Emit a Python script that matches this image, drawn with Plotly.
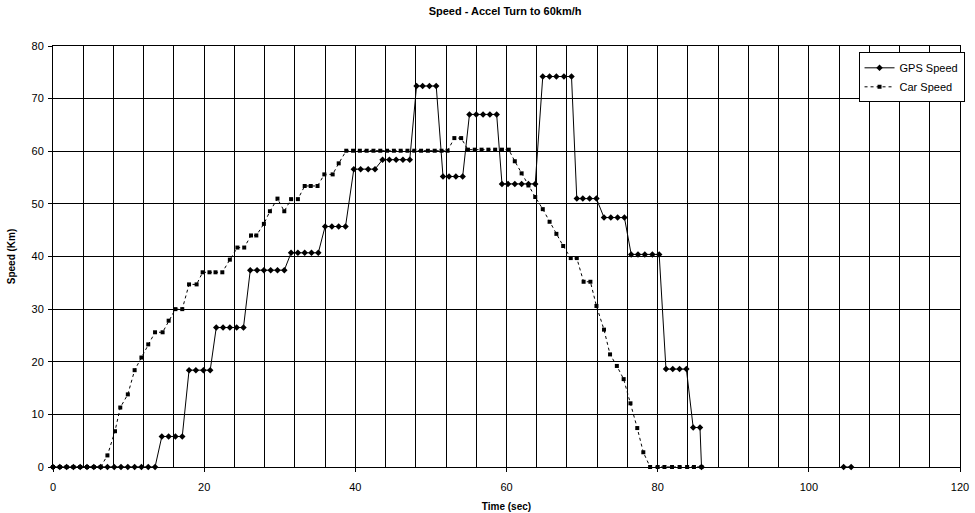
import plotly.graph_objects as go

# GPS speed samples (time in s, speed)
gps_time = [0.0, 0.9, 1.8, 2.7, 3.6, 4.5, 5.4, 6.3, 7.2, 8.1, 9.0, 9.9, 10.8, 11.7, 12.6, 13.5,
            14.4, 15.3, 16.2, 17.1,
            18.0, 18.9, 19.9, 20.8,
            21.6, 22.5, 23.4, 24.3, 25.2,
            26.1, 27.0, 27.9, 28.8, 29.7, 30.6,
            31.5, 32.4, 33.3, 34.2, 35.1,
            36.0, 36.9, 37.8, 38.7,
            39.8, 40.7, 41.7, 42.6,
            43.6, 44.5, 45.4, 46.3, 47.2,
            48.1, 48.9, 49.8, 50.7,
            51.6, 52.4, 53.3, 54.2,
            55.1, 56.0, 56.9, 57.8, 58.7,
            59.4, 60.2, 61.1, 62.0, 62.9, 63.8,
            64.8, 65.7, 66.6, 67.6, 68.6,
            69.3, 70.1, 71.0, 71.9,
            72.9, 73.8, 74.7, 75.6,
            76.5, 77.4, 78.3, 79.3, 80.2,
            81.1, 82.0, 82.9, 83.8,
            84.7, 85.6, 85.8,
            None,
            104.6, 105.6]
gps_speed = [0, 0, 0, 0, 0, 0, 0, 0, 0, 0, 0, 0, 0, 0, 0, 0,
             5.8, 5.8, 5.8, 5.8,
             18.4, 18.4, 18.4, 18.4,
             26.5, 26.5, 26.5, 26.5, 26.5,
             37.4, 37.4, 37.4, 37.4, 37.4, 37.4,
             40.7, 40.7, 40.7, 40.7, 40.7,
             45.7, 45.7, 45.7, 45.7,
             56.6, 56.6, 56.6, 56.6,
             58.4, 58.4, 58.4, 58.4, 58.4,
             72.4, 72.4, 72.4, 72.4,
             55.2, 55.2, 55.2, 55.2,
             67.0, 67.0, 67.0, 67.0, 67.0,
             53.8, 53.8, 53.8, 53.8, 53.8, 53.8,
             74.2, 74.2, 74.2, 74.2, 74.2,
             51.0, 51.0, 51.0, 51.0,
             47.4, 47.4, 47.4, 47.4,
             40.4, 40.4, 40.4, 40.4, 40.4,
             18.6, 18.6, 18.6, 18.6,
             7.5, 7.5, 0,
             None,
             0, 0]

# Car speed samples
car_time = [0.0, 0.9, 1.8, 2.7, 3.6, 4.5, 5.4, 6.3,
            7.2, 8.2, 8.9, 9.9, 10.8, 11.7, 12.6, 13.5, 14.5, 15.3, 16.2, 17.1,
            18.0, 19.0, 19.8, 20.7, 21.5, 22.4, 23.4, 24.4, 25.3, 26.2, 26.9,
            27.9, 28.7, 29.7, 30.6, 31.5, 32.4, 33.3, 34.1, 35.0, 35.9, 37.0, 37.8,
            38.8, 39.7, 40.6, 41.5, 42.4, 43.3, 44.2, 45.1, 46.0, 46.9, 47.8,
            48.7, 49.6, 50.5, 51.4, 52.2,
            53.1, 54.0,
            54.9, 55.8, 56.7, 57.6, 58.5, 59.4, 60.3,
            61.1, 62.0, 62.9, 63.8, 64.8, 65.7, 66.6, 67.5, 68.5, 69.3,
            70.2, 71.1, 71.9, 72.9, 73.7, 74.6, 75.5, 76.4, 77.3, 78.1,
            79.0, 80.0, 80.9, 81.9, 82.9, 83.9, 84.8, 85.8]
car_speed = [0, 0, 0, 0, 0, 0, 0, 0,
             2.2, 6.8, 11.3, 13.8, 18.4, 20.8, 23.3, 25.6, 25.6, 27.8, 30.0, 30.0,
             34.7, 34.7, 37.0, 37.0, 37.0, 37.0, 39.4, 41.7, 41.7, 44.0, 44.0,
             46.2, 48.6, 51.0, 48.6, 50.9, 50.9, 53.4, 53.4, 53.4, 55.6, 55.6, 57.7,
             60.1, 60.1, 60.1, 60.1, 60.1, 60.1, 60.1, 60.1, 60.1, 60.1, 60.1,
             60.1, 60.1, 60.1, 60.1, 60.1,
             62.5, 62.5,
             60.3, 60.3, 60.3, 60.3, 60.3, 60.3, 60.3,
             58.1, 55.8, 53.5, 51.3, 49.0, 46.6, 44.3, 42.0, 39.7, 39.7,
             35.2, 35.2, 30.6, 26.1, 21.4, 19.2, 16.7, 12.1, 7.4, 2.8,
             0, 0, 0, 0, 0, 0, 0, 0]

x_ticks = [0, 20, 40, 60, 80, 100, 120]
y_ticks = [0, 10, 20, 30, 40, 50, 60, 70, 80]

FONT = "Liberation Sans, Arial, sans-serif"

fig = go.Figure()
fig.add_trace(go.Scatter(
    x=gps_time, y=gps_speed, name="GPS Speed", mode="lines+markers",
    line=dict(color="black", width=1),
    marker=dict(symbol="diamond", size=5, color="black"),
    connectgaps=False, cliponaxis=False))
fig.add_trace(go.Scatter(
    x=car_time, y=car_speed, name="Car Speed", mode="lines+markers",
    line=dict(color="black", width=1, dash="dot"),
    marker=dict(symbol="square", size=4, color="black"),
    cliponaxis=False))

fig.update_layout(
    width=975, height=513,
    paper_bgcolor="white", plot_bgcolor="white",
    margin=dict(l=53, r=15, t=46, b=46, autoexpand=False),
    font=dict(family=FONT, size=11, color="black"),
    title=dict(text="<b>Speed - Accel Turn to 60km/h</b>", x=0.518, xanchor="center",
               y=0.985, yanchor="top", font=dict(size=11)),
    showlegend=True,
    legend=dict(x=1.005, xanchor="right", y=0.985, yanchor="top",
                bgcolor="white", bordercolor="black", borderwidth=1,
                font=dict(size=11), tracegroupgap=0, itemwidth=30),
    xaxis=dict(range=[0, 120], tickvals=x_ticks, ticks="outside", ticklen=4,
               tickcolor="black", showgrid=True, gridcolor="black", gridwidth=1,
               minor=dict(dtick=4, showgrid=True, gridcolor="black", gridwidth=1),
               showline=True, linecolor="black", linewidth=1, mirror=True,
               zeroline=False, automargin=False, ticklabelstandoff=6,
               title=dict(text="<b>Time (sec)</b>", font=dict(size=10), standoff=10)),
    yaxis=dict(range=[0, 80], tickvals=y_ticks, ticks="outside", ticklen=4,
               tickcolor="black", showgrid=True, gridcolor="black", gridwidth=1,
               showline=True, linecolor="black", linewidth=1, mirror=True,
               zeroline=False, automargin=False, ticklabelstandoff=2,
               title=dict(text="<b>Speed (Km)</b>", font=dict(size=10), standoff=14)),
)

fig.write_html("out.html", config={"displayModeBar": False},
               post_script="document.body.style.margin='0';")
